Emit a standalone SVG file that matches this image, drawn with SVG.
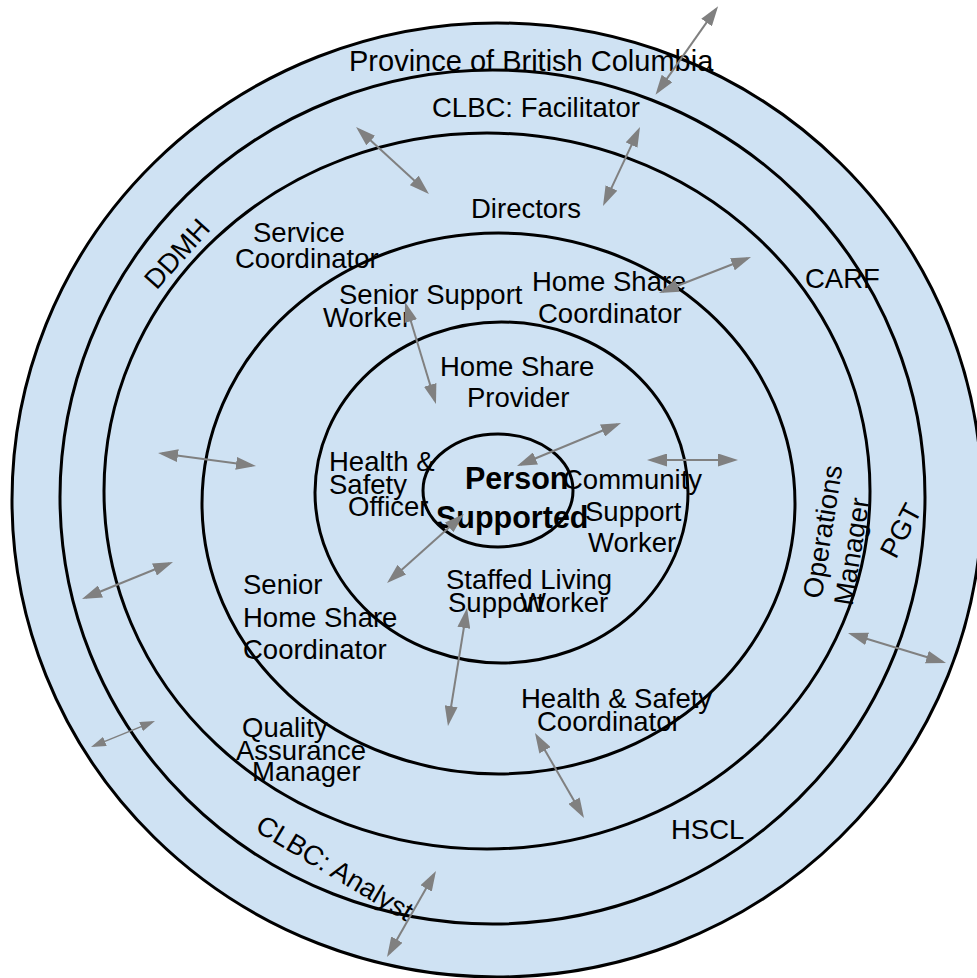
<svg xmlns="http://www.w3.org/2000/svg" width="977" height="978" viewBox="0 0 977 978">
<style>
.ring{fill:#cfe2f3;stroke:#000;stroke-width:3}
.t{font-family:"Liberation Sans",Arial,sans-serif;font-size:27.5px;fill:#000}
.b{font-weight:bold;font-size:30.5px}
.c{stroke:#808080;stroke-width:2;fill:none;marker-start:url(#ah);marker-end:url(#ah)}
.s{stroke-width:1.5}
</style>
<defs>
<marker id="ah" viewBox="0 0 10 6.5" refX="8" refY="3.25" markerWidth="10" markerHeight="6.5" markerUnits="strokeWidth" orient="auto-start-reverse">
<path d="M0,0 L10,3.25 L0,6.5 z" fill="#808080"/>
</marker>
</defs>
<rect width="977" height="978" fill="#fff"/>
<g id="ring-province"><ellipse class="ring" cx="497" cy="500" rx="485" ry="477"/></g>
<g id="ring-clbc"><ellipse class="ring" cx="492.5" cy="497" rx="432.5" ry="427"/></g>
<g id="ring-directors"><ellipse class="ring" cx="487" cy="491" rx="383" ry="358"/></g>
<g id="ring-coordinators"><ellipse class="ring" cx="498.5" cy="503.5" rx="296.5" ry="270.5"/></g>
<g id="ring-workers"><ellipse class="ring" cx="501.5" cy="492.5" rx="186.5" ry="170.5"/></g>
<g id="ring-person"><ellipse class="ring" cx="498" cy="490.5" rx="75" ry="56.5"/></g>

<g id="province"><text class="t" x="349" y="71" style="font-size:29px">Province of British Columbia</text></g>
<g id="clbc-facilitator"><text class="t" x="432" y="117">CLBC: Facilitator</text></g>
<g id="directors"><text class="t" x="471" y="218">Directors</text></g>
<g id="service-coordinator"><text class="t"><tspan x="253" y="242">Service</tspan><tspan x="235" y="268">Coordinator</tspan></text></g>
<g id="senior-support-worker"><text class="t"><tspan x="339" y="304">Senior Support</tspan><tspan x="323" y="327">Worker</tspan></text></g>
<g id="home-share-coordinator"><text class="t"><tspan x="532" y="291">Home Share</tspan><tspan x="538" y="323">Coordinator</tspan></text></g>
<g id="home-share-provider"><text class="t"><tspan x="440" y="376">Home Share</tspan><tspan x="467" y="407">Provider</tspan></text></g>
<g id="health-safety-officer"><text class="t"><tspan x="329" y="471">Health &amp;</tspan><tspan x="329" y="494">Safety</tspan><tspan x="348" y="516">Officer</tspan></text></g>
<g id="person-supported"><text class="t b"><tspan x="465" y="489">Person</tspan><tspan x="436" y="528">Supported</tspan></text></g>
<g id="community-support-worker"><text class="t"><tspan x="563" y="489">Community</tspan><tspan x="585" y="521">Support</tspan><tspan x="588" y="552">Worker</tspan></text></g>
<g id="staffed-living-support-worker"><text class="t"><tspan x="446" y="589">Staffed Living</tspan><tspan x="448" y="612">Support</tspan><tspan x="520" y="612">Worker</tspan></text></g>
<g id="senior-home-share-coordinator"><text class="t"><tspan x="243" y="594">Senior</tspan><tspan x="243" y="627">Home Share</tspan><tspan x="243" y="659">Coordinator</tspan></text></g>
<g id="quality-assurance-manager"><text class="t"><tspan x="242" y="737">Quality</tspan><tspan x="236" y="760">Assurance</tspan><tspan x="252" y="781">Manager</tspan></text></g>
<g id="health-safety-coordinator"><text class="t"><tspan x="521" y="708">Health &amp; Safety</tspan><tspan x="537" y="731">Coordinator</tspan></text></g>
<g id="hscl"><text class="t" x="671" y="839">HSCL</text></g>
<g id="carf"><text class="t" x="805" y="288">CARF</text></g>
<g id="ddmh"><text class="t" text-anchor="middle" transform="translate(184,260) rotate(-48)">DDMH</text></g>
<g id="clbc-analyst"><text class="t" text-anchor="middle" transform="translate(330,876) rotate(31)">CLBC: Analyst</text></g>
<g id="operations-manager"><text class="t" text-anchor="middle" transform="translate(832,533) rotate(-81)">Operations</text><text class="t" text-anchor="middle" transform="translate(861,553) rotate(-81)">Manager</text></g>
<g id="pgt"><text class="t" text-anchor="middle" transform="translate(909,535) rotate(-62)">PGT</text></g>

<g id="connectors">
<line class="c" x1="715.8" y1="9.4" x2="657.8" y2="91.6"/>
<line class="c" x1="359" y1="129.7" x2="426" y2="191.3"/>
<line class="c" x1="638.3" y1="130.6" x2="604.7" y2="202.4"/>
<line class="c" x1="662.7" y1="291.5" x2="747.3" y2="258.5"/>
<line class="c" x1="406.2" y1="305.8" x2="434.8" y2="400.2"/>
<line class="c" x1="520.7" y1="464.5" x2="617.3" y2="424.5"/>
<line class="c" x1="651" y1="460" x2="734" y2="460"/>
<line class="c" x1="162" y1="453.5" x2="252" y2="465.5"/>
<line class="c" x1="85.7" y1="597.5" x2="169.3" y2="563.5"/>
<line class="c s" x1="93.8" y1="745.9" x2="152.2" y2="722.1"/>
<line class="c" x1="461" y1="516.7" x2="390" y2="580.3"/>
<line class="c" x1="466.4" y1="612" x2="448.6" y2="722"/>
<line class="c" x1="537" y1="736.5" x2="582" y2="814.5"/>
<line class="c" x1="434" y1="874.5" x2="389" y2="953.5"/>
<line class="c" x1="851.8" y1="634.2" x2="942.2" y2="661.8"/>
</g>
</svg>
